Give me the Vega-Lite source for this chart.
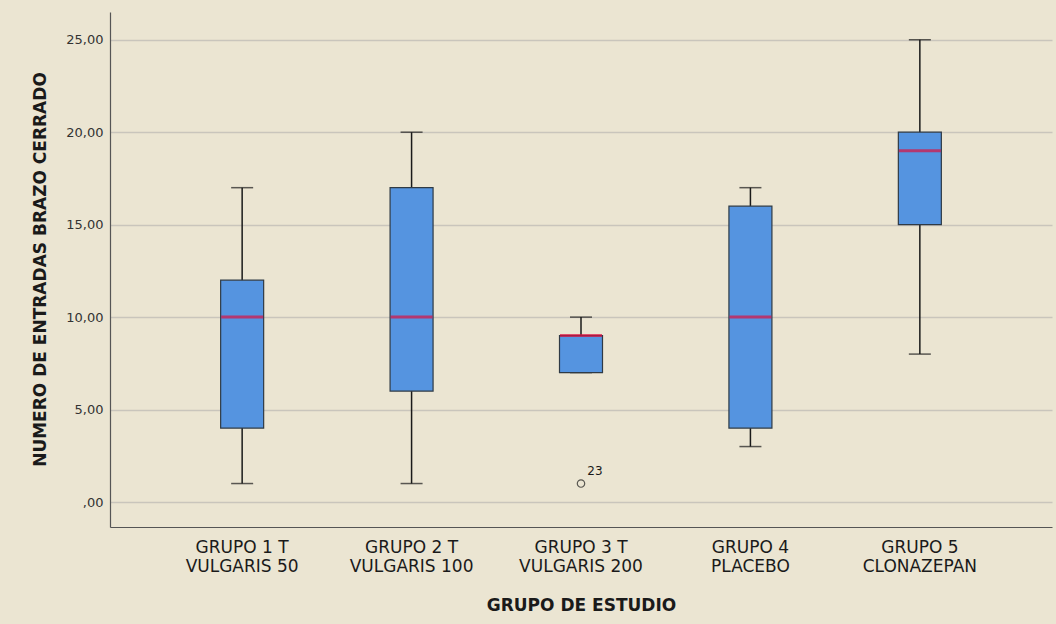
{
  "$schema": "https://vega.github.io/schema/vega-lite/v6.json",
  "width": 942,
  "height": 515,
  "autosize": "none",
  "padding": {"left": 110, "top": 12, "right": 4, "bottom": 97},
  "background": "#EBE5D2",
  "config": {
    "view": {"stroke": null},
    "font": "DejaVu Sans"
  },
  "datasets": {
    "boxes": [
      {"grupo": "GRUPO 1 T|VULGARIS 50", "lo": 1, "q1": 4, "median": 10, "q3": 12, "hi": 17},
      {"grupo": "GRUPO 2 T|VULGARIS 100", "lo": 1, "q1": 6, "median": 10, "q3": 17, "hi": 20},
      {"grupo": "GRUPO 3 T|VULGARIS 200", "lo": 7, "q1": 7, "median": 9, "q3": 9, "hi": 10},
      {"grupo": "GRUPO 4|PLACEBO", "lo": 3, "q1": 4, "median": 10, "q3": 16, "hi": 17},
      {"grupo": "GRUPO 5|CLONAZEPAN", "lo": 8, "q1": 15, "median": 19, "q3": 20, "hi": 25}
    ],
    "outliers": [
      {"grupo": "GRUPO 3 T|VULGARIS 200", "valor": 1, "caso": "23"}
    ]
  },
  "data": {"name": "boxes"},
  "encoding": {
    "x": {
      "field": "grupo",
      "type": "nominal",
      "sort": null,
      "title": "GRUPO DE ESTUDIO",
      "scale": {"paddingInner": 0, "paddingOuter": 0.28},
      "axis": {
        "labelExpr": "split(datum.value, '|')",
        "labelAngle": 0,
        "labelFont": "DejaVu Sans",
        "labelFontSize": 17,
        "labelColor": "#1a1a1a",
        "labelLineHeight": 19,
        "labelPadding": 12,
        "ticks": false,
        "domainColor": "#555555",
        "domainWidth": 1.2,
        "titleFontSize": 17,
        "titleFontWeight": "bold",
        "titleColor": "#1a1a1a",
        "titleY": 78,
        "titleBaseline": "middle"
      }
    }
  },
  "layer": [
    {
      "mark": {"type": "rule", "color": "#1a1a1a", "strokeWidth": 1.5},
      "encoding": {
        "y": {
          "field": "lo",
          "type": "quantitative",
          "title": "NUMERO DE ENTRADAS BRAZO CERRADO",
          "scale": {"domain": [-1.35, 26.5], "nice": false, "zero": false},
          "axis": {
            "values": [0, 5, 10, 15, 20, 25],
            "labelExpr": "datum.value == 0 ? ',00' : replace(format(datum.value, '.2f'), '.', ',')",
            "labelFontSize": 13,
            "labelColor": "#333333",
            "labelPadding": 7,
            "ticks": false,
            "grid": true,
            "gridColor": "#C9C5BC",
            "gridWidth": 1.5,
            "domainColor": "#555555",
            "domainWidth": 1.2,
            "titleFontSize": 17,
            "titleFontWeight": "bold",
            "titleColor": "#1a1a1a",
            "titleX": -70,
            "titleY": 257,
            "titleAngle": -90,
            "titleAlign": "center",
            "titleBaseline": "middle"
          }
        },
        "y2": {"field": "q1"}
      }
    },
    {
      "mark": {"type": "rule", "color": "#1a1a1a", "strokeWidth": 1.5},
      "encoding": {
        "y": {"field": "q3", "type": "quantitative"},
        "y2": {"field": "hi"}
      }
    },
    {
      "mark": {"type": "tick", "color": "#1a1a1a", "size": 22, "thickness": 1.5, "orient": "horizontal"},
      "encoding": {"y": {"field": "lo", "type": "quantitative"}}
    },
    {
      "mark": {"type": "tick", "color": "#1a1a1a", "size": 22, "thickness": 1.5, "orient": "horizontal"},
      "encoding": {"y": {"field": "hi", "type": "quantitative"}}
    },
    {
      "mark": {"type": "bar", "width": 43, "fill": "#5594E0", "stroke": "#2f3a45", "strokeWidth": 1.2},
      "encoding": {
        "y": {"field": "q1", "type": "quantitative"},
        "y2": {"field": "q3"}
      }
    },
    {
      "mark": {"type": "tick", "color": "#DC1040", "size": 42, "thickness": 3, "orient": "horizontal"},
      "encoding": {"y": {"field": "median", "type": "quantitative"}}
    },
    {
      "data": {"name": "outliers"},
      "mark": {"type": "point", "shape": "circle", "filled": false, "size": 55, "color": "#1a1a1a", "strokeWidth": 1.2},
      "encoding": {"y": {"field": "valor", "type": "quantitative"}}
    },
    {
      "data": {"name": "outliers"},
      "mark": {"type": "text", "dx": 14, "dy": -13, "fontSize": 12, "color": "#1a1a1a"},
      "encoding": {
        "y": {"field": "valor", "type": "quantitative"},
        "text": {"field": "caso"}
      }
    }
  ]
}
